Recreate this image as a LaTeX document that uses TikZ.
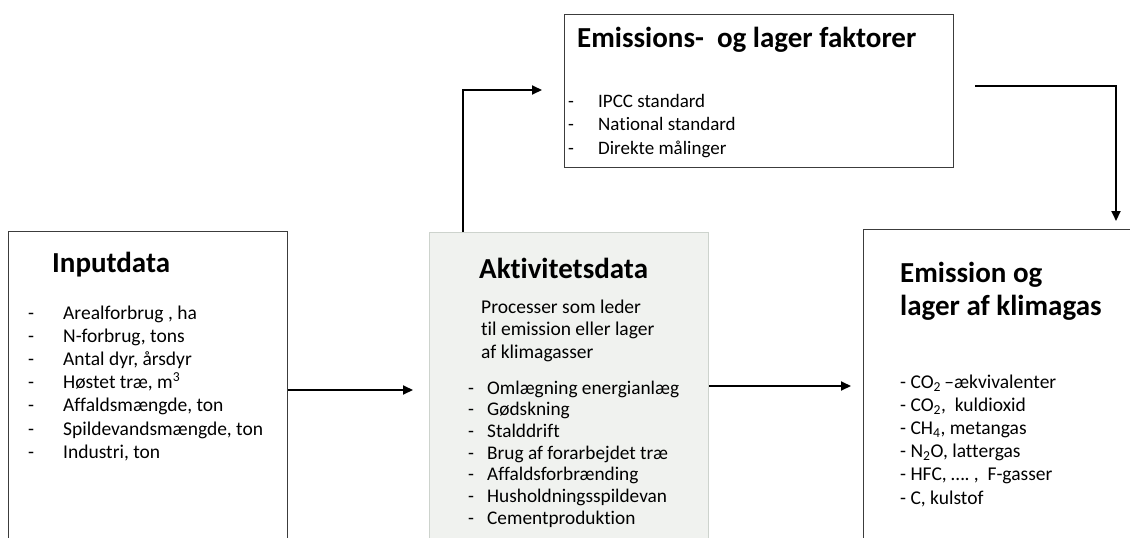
\documentclass[tikz,border=0pt]{standalone}
\usepackage{fontspec}
\setmainfont{Carlito}[Ligatures={NoCommon}]
\usetikzlibrary{arrows.meta}
\definecolor{aktfill}{HTML}{F0F2EF}
\definecolor{aktline}{HTML}{CDD3CD}
\definecolor{boxline}{HTML}{3C3C3C}
\newcommand{\titlefont}{\bfseries\fontsize{29}{33}\selectfont}
\newcommand{\listfont}{\fontsize{19.5}{23.2}\selectfont}
\newcommand{\midfont}{\fontsize{19.3}{21.7}\selectfont}

\begin{document}
\begin{tikzpicture}[x=1pt,y=-1pt,
  box/.style={draw=boxline, line width=1.1pt, anchor=north west, inner sep=0pt},
  flow/.style={-{Triangle[length=10pt,width=9pt]}, line width=2pt},
  txt/.style={anchor=base west, inner sep=0pt}]
\useasboundingbox (0,0) rectangle (1130,538);
\clip (0,0) rectangle (1130,538);
% boxes
\node[box, minimum width=279pt, minimum height=340pt] (inp) at (8,231) {};
\node[box, draw=aktline, fill=aktfill, minimum width=279pt, minimum height=340pt] (akt) at (429,232) {};
\node[box, minimum width=389pt, minimum height=153pt] (fak) at (564,14) {};
\node[box, minimum width=300pt, minimum height=340pt] (emi) at (863,229) {};
% Inputdata
\node[txt, font=\titlefont] (inptitle) at (52,272) {Inputdata};
\node[txt, font=\listfont] (inplist) at (28,319) {\begin{tabular}[t]{@{}p{35pt}@{}l@{}}
- & Arealforbrug , ha\\
- & N-forbrug, tons\\
- & Antal dyr, årsdyr\\
- & Høstet træ, m\textsuperscript{3}\\
- & Affaldsmængde, ton\\
- & Spildevandsmængde, ton\\
- & Industri, ton
\end{tabular}};
% Aktivitetsdata
\node[txt, font=\titlefont] (akttitle) at (479,278) {Aktivitetsdata};
\node[txt, font=\fontsize{19.5}{22.7}\selectfont] (akttext) at (481,313) {\begin{tabular}[t]{@{}l@{}}
Processer som leder\\
til emission eller lager\\
af klimagasser
\end{tabular}};
\node[txt, font=\midfont] (aktlist) at (468,394) {\begin{tabular}[t]{@{}p{19pt}@{}l@{}}
- & Omlægning energianlæg\\
- & Gødskning\\
- & Stalddrift\\
- & Brug af forarbejdet træ\\
- & Affaldsforbrænding\\
- & Husholdningsspildevan\\
- & Cementproduktion
\end{tabular}};
% faktorer
\node[txt, font=\titlefont] (faktitle) at (577,47) {Emissions-~ og lager faktorer};
\node[txt, font=\fontsize{19}{23.5}\selectfont] (faklist) at (568,107) {\begin{tabular}[t]{@{}p{30pt}@{}l@{}}
- & IPCC standard\\
- & National standard\\
- & Direkte målinger
\end{tabular}};
% Emission
\node[txt, font=\titlefont] (emititle) at (900,282) {\begin{tabular}[t]{@{}l@{}}
Emission og\\
lager af klimagas
\end{tabular}};
\node[txt, font=\listfont] (emilist) at (900,388) {\begin{tabular}[t]{@{}l@{}}
- CO\textsubscript{2}\,--ækvivalenter\\
- CO\textsubscript{2},~ kuldioxid\\
- CH\textsubscript{4}, metangas\\
- N\textsubscript{2}O, lattergas\\
- HFC, ….~,~ F-gasser\\
- C, kulstof
\end{tabular}};
% connectors
\coordinate (inptip) at (413,390);
\coordinate (akttip) at (851,386);
\coordinate (faktip) at (542,90);
\coordinate (fakout) at (975,86);
\coordinate (emitip) at (1116,221);
\draw[flow] (inp.east |- inptip) -- (inptip);
\draw[flow] (akt.east |- akttip) -- (akttip);
\draw[flow] ([xshift=34pt]akt.north west) |- (faktip);
\draw[flow] (fakout) -| (emitip);
\end{tikzpicture}
\end{document}
